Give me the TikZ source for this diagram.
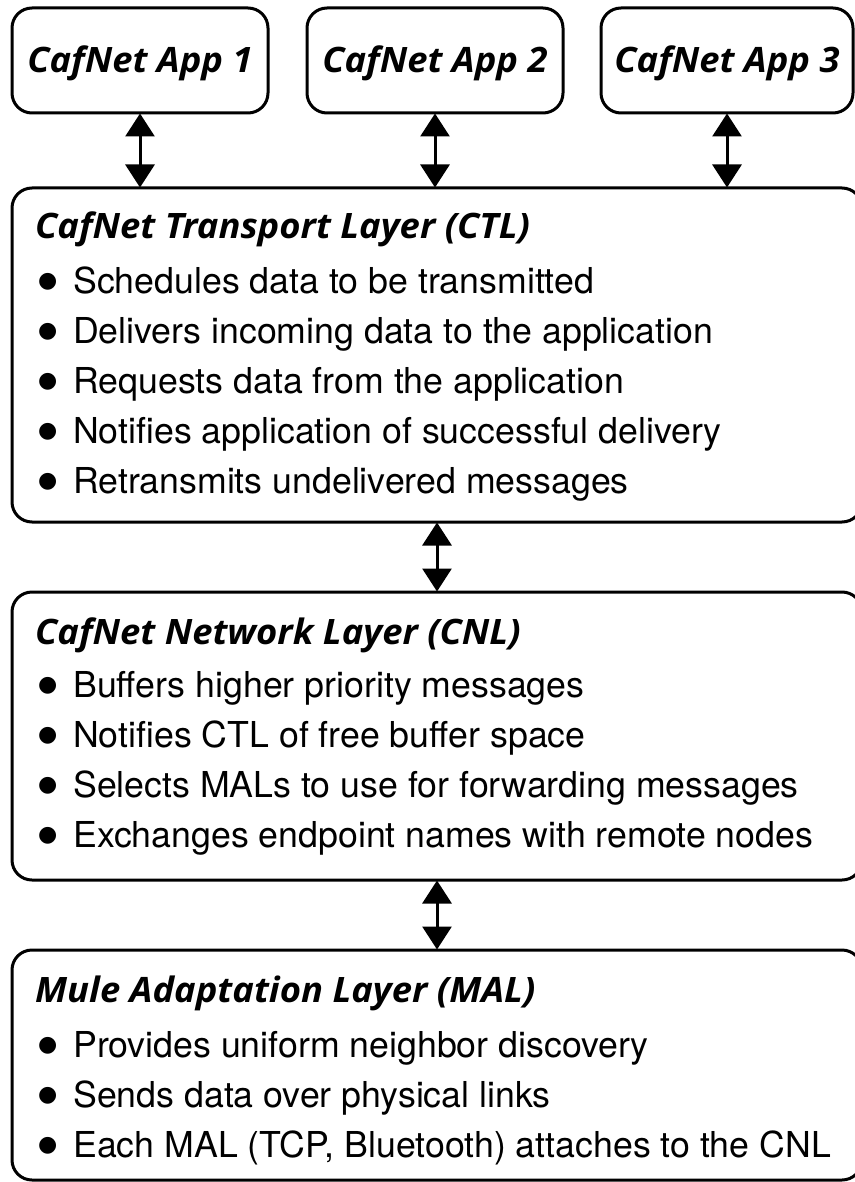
\documentclass[tikz,border=0pt]{standalone}
\usepackage{fontspec}
\usetikzlibrary{arrows.meta}
\newfontfamily\headfont{Open Sans}[FakeStretch=1.04]
\newfontfamily\bodyfont{TeX Gyre Heros}
\newfontfamily\dotfont{DejaVu Sans}
\tikzset{
  box/.style={draw, line width=3pt, rounded corners=20pt, inner sep=0pt},
  apptext/.style={font=\headfont\bfseries\itshape\fontsize{35}{40}\selectfont, text height=33pt, text depth=8pt},
  head/.style={anchor=base west, inner sep=0pt, font=\headfont\bfseries\itshape\fontsize{35}{40}\selectfont},
  item/.style={anchor=base west, inner sep=0pt, font=\bodyfont\fontsize{35.7}{42}\selectfont},
  link/.style={line width=3pt, {Triangle[width=29pt,length=23pt]}-{Triangle[width=29pt,length=23pt]}, shorten <=-1pt, shorten >=-1pt}
}
\newcommand{\bul}[1]{\makebox[35pt][l]{\raisebox{5.5pt}{\dotfont\fontsize{22}{22}\selectfont ●}}#1}
\begin{document}
\begin{tikzpicture}[x=1pt,y=-1pt]
\useasboundingbox (0,0) rectangle (854,1182);
% application boxes
\node[box, apptext, minimum width=256pt, minimum height=105pt] (app1) at (140,60.5) {CafNet App 1};
\node[box, apptext, minimum width=256pt, minimum height=105pt] (app2) at (435,60.5) {CafNet App 2};
\node[box, apptext, minimum width=252pt, minimum height=105pt] (app3) at (727,60.5) {CafNet App 3};
% layer boxes
\node[box, minimum width=850pt, minimum height=334pt] (ctl) at (437,355) {};
\node[box, minimum width=850pt, minimum height=288pt] (cnl) at (437,736) {};
\node[box, minimum width=850pt, minimum height=230pt] (mal) at (437,1065) {};
% transport layer
\node[head] (ctlh) at (35,239) {CafNet Transport Layer (CTL)};
\node[item] (ctl1) at (38,293) {\bul{Schedules data to be transmitted}};
\node[item] (ctl2) at (38,343) {\bul{Delivers incoming data to the application}};
\node[item] (ctl3) at (38,393) {\bul{Requests data from the application}};
\node[item] (ctl4) at (38,443) {\bul{Notifies application of successful delivery}};
\node[item] (ctl5) at (38,493) {\bul{Retransmits undelivered messages}};
% network layer
\node[head] (cnlh) at (35,644) {CafNet Network Layer (CNL)};
\node[item] (cnl1) at (38,697) {\bul{Buffers higher priority messages}};
\node[item] (cnl2) at (38,747) {\bul{Notifies CTL of free buffer space}};
\node[item] (cnl3) at (38,797) {\bul{Selects MALs to use for forwarding messages}};
\node[item] (cnl4) at (38,847) {\bul{Exchanges endpoint names with remote nodes}};
% mule adaptation layer
\node[head] (malh) at (35,1002) {Mule Adaptation Layer (MAL)};
\node[item] (mal1) at (38,1057) {\bul{Provides uniform neighbor discovery}};
\node[item] (mal2) at (38,1107) {\bul{Sends data over physical links}};
\node[item] (mal3) at (38,1157) {\bul{Each MAL (TCP, Bluetooth) attaches to the CNL}};
% connectors
\draw[link] (app1.south) -- (app1.south |- ctl.north);
\draw[link] (app2.south) -- (app2.south |- ctl.north);
\draw[link] (app3.south) -- (app3.south |- ctl.north);
\draw[link] (ctl.south) -- (cnl.north);
\draw[link] (cnl.south) -- (mal.north);
\end{tikzpicture}
\end{document}
